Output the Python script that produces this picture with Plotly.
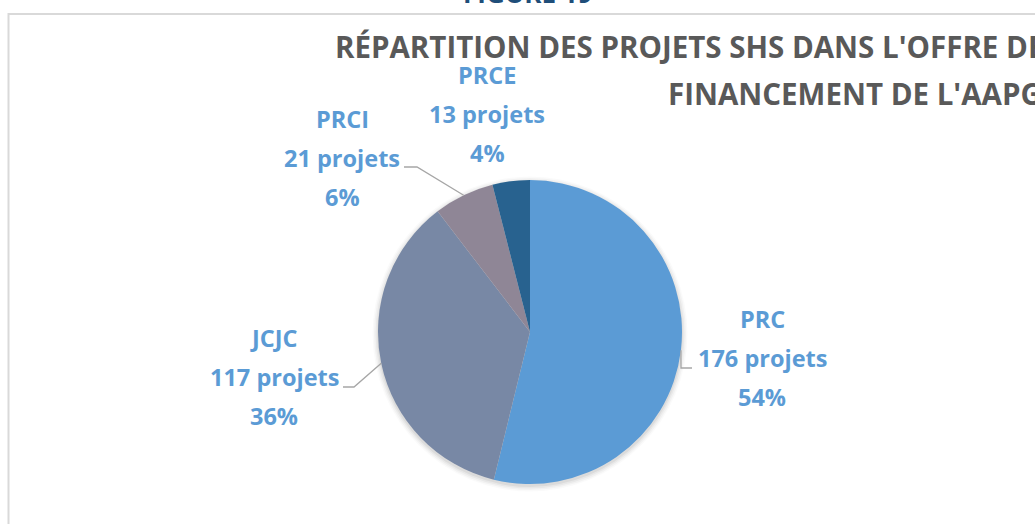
import math
import plotly.graph_objects as go

# ---------------- data ----------------
labels = ["PRC", "JCJC", "PRCI", "PRCE"]
values = [176, 117, 21, 13]
unit = "projets"
colors = ["#5B9BD5", "#7888A5", "#8F8696", "#28628F"]
title_lines = ["RÉPARTITION DES PROJETS SHS DANS L'OFFRE DE", "FINANCEMENT DE L'AAPG"]
figure_label = "FIGURE 19"

# ---------------- layout helpers ----------------
W, H = 1035, 524
CX, CY, R = 530, 332, 152


def px(x):
    return x / W


def py(y):
    return 1 - y / H


# label block centres (pixels) and leader-line elbows
label_pos = {
    "PRC": (762, 319),
    "JCJC": (274, 338),
    "PRCI": (342, 119),
    "PRCE": (487, 75),
}
line_gap = 39
leaders = {
    "PRC": [(692, 368), (681, 368)],
    "JCJC": [(343, 387), (354, 387)],
    "PRCI": [(404, 167), (417, 167)],
}

total = sum(values)
fig = go.Figure()

fig.add_trace(go.Pie(
    labels=labels, values=values, sort=False, direction="clockwise", rotation=0,
    textinfo="none", hoverinfo="label+value+percent",
    marker=dict(colors=colors, line=dict(width=0)),
    domain=dict(x=[px(CX - R), px(CX + R)], y=[py(CY + R), py(CY - R)]),
    showlegend=False,
))

shapes = []
# frame
shapes.append(dict(type="rect", xref="paper", yref="paper",
                   x0=px(8.5), x1=px(W + 10), y0=py(H + 10), y1=py(14),
                   line=dict(color="#D9D9D9", width=2), layer="below"))
# soft shadow under the pie
for i, a in enumerate([0.05, 0.04, 0.03, 0.02]):
    rr = R + 1 + i * 1.5
    cy = CY + 2
    shapes.append(dict(type="circle", xref="paper", yref="paper",
                       x0=px(CX - rr), x1=px(CX + rr), y0=py(cy + rr), y1=py(cy - rr),
                       fillcolor=f"rgba(0,0,0,{a})", line=dict(width=0), layer="below"))

annotations = []
cum = 0
FONT = "Open Sans, Lato, sans-serif"
font_lbl = dict(family=FONT, size=23.5, color="#5B9BD5")
for lab, v in zip(labels, values):
    frac_mid = (cum + v / 2) / total
    cum += v
    ang = 2 * math.pi * frac_mid
    ex, ey = CX + R * math.sin(ang), CY - R * math.cos(ang)
    lx, ly = label_pos[lab]
    texts = [lab, f"{v} {unit}", f"{round(v / total * 100)}%"]
    for k, t in enumerate(texts):
        annotations.append(dict(text=f"<b>{t}</b>", x=px(lx), y=py(ly + k * line_gap),
                                xref="paper", yref="paper", xanchor="center", yanchor="middle",
                                showarrow=False, font=font_lbl))
    if lab in leaders:
        pts = leaders[lab] + [(ex, ey)]
        path = "M " + " L ".join(f"{px(x):.5f},{py(y):.5f}" for x, y in pts)
        shapes.append(dict(type="path", xref="paper", yref="paper", path=path,
                           line=dict(color="#A6A6A6", width=1.3)))

font_title = dict(family=FONT, size=29.5, color="#595959")
annotations.append(dict(text=f"<b>{title_lines[0]}</b>", x=px(333), y=py(47), xref="paper", yref="paper",
                        xanchor="left", yanchor="middle", showarrow=False, font=font_title))
annotations.append(dict(text=f"<b>{title_lines[1]}</b>", x=px(666), y=py(93), xref="paper", yref="paper",
                        xanchor="left", yanchor="middle", showarrow=False, font=font_title))
annotations.append(dict(text=f"<b>{figure_label}</b>", x=px(528), y=py(13), xref="paper", yref="paper",
                        xanchor="center", yanchor="bottom", showarrow=False,
                        font=dict(family=FONT, size=26, color="#1F4E79")))

fig.update_layout(
    width=W, height=H, margin=dict(l=0, r=0, t=0, b=0),
    paper_bgcolor="white", plot_bgcolor="white",
    shapes=shapes, annotations=annotations,
)
fig.write_html("out.html", config={"displayModeBar": False},
               post_script="document.body.style.margin='0';document.body.style.padding='0';")
